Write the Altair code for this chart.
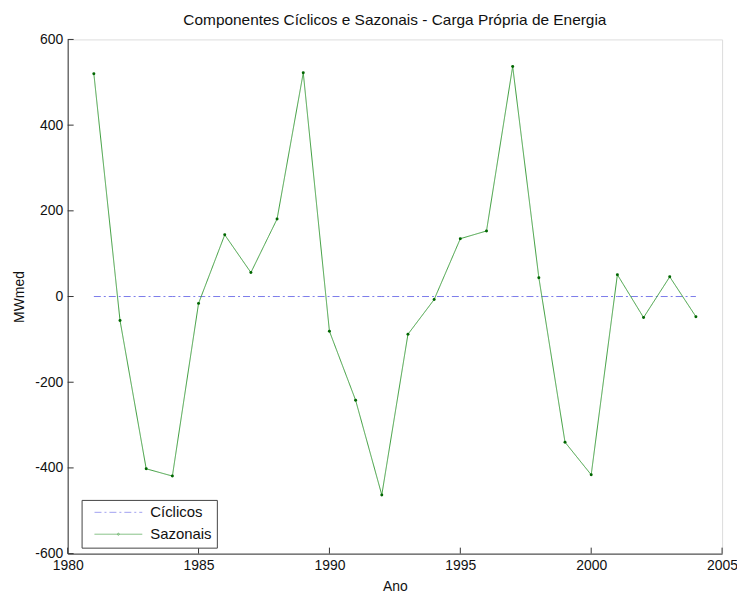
import altair as alt
import pandas as pd

years = list(range(1981, 2005))
sazonais = [520, -56, -402, -419, -16, 144, 56, 181, 522, -81, -242, -463,
            -88, -7, 135, 153, 537, 44, -340, -416, 51, -49, 46, -47]
ciclicos = [0] * 24
series_names = ["Cíclicos", "Sazonais"]
x_ticks = [1980, 1985, 1990, 1995, 2000, 2005]
y_ticks = [-600, -400, -200, 0, 200, 400, 600]

df = pd.DataFrame({
    "Ano": years * 2,
    "valor": ciclicos + sazonais,
    "serie": [series_names[0]] * len(years) + [series_names[1]] * len(years),
})
df_saz = df[df["serie"] == "Sazonais"]

W, H = 658, 517
FONT = "Liberation Sans"

xscale = alt.Scale(domain=[1980, 2005], nice=False, zero=False)
yscale = alt.Scale(domain=[-600, 600], nice=False, zero=False)

color_scale = alt.Scale(domain=series_names, range=["#7b7bea", "#3c9c3c"])
dash_scale = alt.Scale(domain=series_names, range=[[7, 3, 2, 3], [1, 0]])
shape_scale = alt.Scale(
    domain=series_names,
    range=[
        "M0.25,0H24.25",
        "M0.25,0H24.25M11.75,0A0.5,0.5,0,1,1,12.75,0A0.5,0.5,0,1,1,11.75,0",
    ],
)

def make_legend():
    return alt.Legend(
        orient="none", legendX=14, legendY=463,
        strokeColor="#444", fillColor="white",
        padding=5, labelFont=FONT, labelFontSize=15, labelColor="#111",
        symbolSize=16, symbolStrokeWidth=1, labelOffset=49, rowPadding=6,
        title=None,
    )

xaxis = alt.Axis(values=x_ticks, labelExpr="toString(datum.value)", ticks=False, grid=False,
                 labelFontSize=14, labelFont=FONT, labelColor="#111",
                 titleFontSize=14, titleFont=FONT, titleFontWeight="normal",
                 titleColor="#111", domainColor="#333", labelPadding=5,
                 titlePadding=7, labelFlush=False)
yaxis = alt.Axis(values=y_ticks, labelExpr="toString(datum.value)", ticks=False, grid=False,
                 labelFontSize=14, labelFont=FONT, labelColor="#111",
                 titleFontSize=14, titleFont=FONT, titleFontWeight="normal",
                 titleColor="#111", domainColor="#333", labelPadding=5,
                 titlePadding=8, labelFlush=False)

lines = alt.Chart(df).mark_line(strokeWidth=1).encode(
    x=alt.X("Ano:Q", scale=xscale, axis=xaxis, title="Ano"),
    y=alt.Y("valor:Q", scale=yscale, axis=yaxis, title="MWmed"),
    color=alt.Color("serie:N", scale=color_scale, legend=make_legend()),
    strokeDash=alt.StrokeDash("serie:N", scale=dash_scale, legend=make_legend()),
    order=alt.Order("Ano:Q"),
)

points = alt.Chart(df_saz).mark_circle(size=9, color="#006600", opacity=1).encode(
    x=alt.X("Ano:Q", scale=xscale),
    y=alt.Y("valor:Q", scale=yscale),
)

legend_carrier = alt.Chart(df).transform_filter("false").mark_point(filled=False).encode(
    x=alt.X("Ano:Q", scale=xscale),
    y=alt.Y("valor:Q", scale=yscale),
    color=alt.Color("serie:N", scale=color_scale, legend=make_legend()),
    shape=alt.Shape("serie:N", scale=shape_scale, legend=make_legend()),
)

xt = pd.DataFrame({"t": x_ticks})
yt = pd.DataFrame({"t": y_ticks})
xticks_layer = alt.Chart(xt).mark_rule(color="#333", strokeWidth=1).encode(
    x=alt.X("t:Q", scale=xscale),
    y=alt.value(H), y2=alt.value(H - 6),
)
yticks_layer = alt.Chart(yt).mark_rule(color="#333", strokeWidth=1).encode(
    y=alt.Y("t:Q", scale=yscale),
    x=alt.value(0), x2=alt.value(6),
)

chart = alt.layer(lines, points, legend_carrier, xticks_layer, yticks_layer).properties(
    width=W, height=H,
    title=alt.TitleParams(
        "Componentes Cíclicos e Sazonais  - Carga Própria de Energia",
        font=FONT, fontSize=15.5, fontWeight="normal", color="#111",
        anchor="middle", offset=4,
    ),
    autosize=alt.AutoSizeParams(type="none"),
    padding={"left": 60, "top": 30, "right": 15, "bottom": 40},
).configure_view(stroke=None).configure(background="white")

chart.save("out.html", embed_options={"renderer": "svg", "actions": False})
